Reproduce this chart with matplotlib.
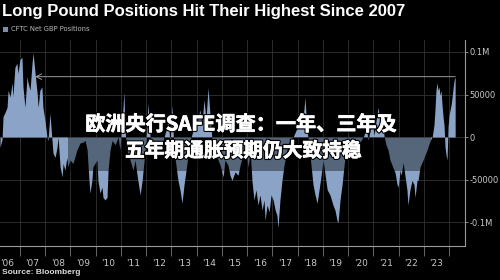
import numpy as np
import matplotlib
matplotlib.use('Agg')
from matplotlib import pyplot as plt
from matplotlib.patches import Rectangle
import matplotlib.patheffects as pe

# CFTC net GBP positions, thousands of contracts
dates = [
    2006.21, 2006.29, 2006.33, 2006.41, 2006.49, 2006.53, 2006.61, 2006.69, 2006.72, 2006.80,
    2006.88, 2006.92, 2007.00, 2007.08, 2007.12, 2007.20, 2007.28, 2007.32, 2007.40, 2007.48,
    2007.52, 2007.60, 2007.68, 2007.72, 2007.79, 2007.87, 2007.91, 2007.99, 2008.07, 2008.11,
    2008.19, 2008.27, 2008.31, 2008.39, 2008.47, 2008.51, 2008.59, 2008.67, 2008.71, 2008.78,
    2008.86, 2008.90, 2008.98, 2009.10, 2009.26, 2009.38, 2009.50, 2009.58, 2009.66, 2009.70,
    2009.77, 2009.85, 2009.89, 2010.05, 2010.09, 2010.17, 2010.25, 2010.29, 2010.37, 2010.45,
    2010.49, 2010.57, 2010.65, 2010.77, 2010.89, 2010.96, 2011.04, 2011.12, 2011.16, 2011.24,
    2011.36, 2011.48, 2011.56, 2011.64, 2011.76, 2011.84, 2011.92, 2012.00, 2012.07, 2012.15,
    2012.23, 2012.35, 2012.47, 2012.55, 2012.67, 2012.79, 2012.87, 2012.95, 2013.02, 2013.10,
    2013.18, 2013.26, 2013.34, 2013.42, 2013.50, 2013.58, 2013.66, 2013.74, 2013.86, 2013.98,
    2014.05, 2014.13, 2014.21, 2014.29, 2014.37, 2014.45, 2014.53, 2014.61, 2014.73, 2014.85,
    2014.93, 2015.05, 2015.12, 2015.24, 2015.32, 2015.40, 2015.52, 2015.64, 2015.72, 2015.84,
    2015.96, 2016.04, 2016.12, 2016.19, 2016.27, 2016.35, 2016.43, 2016.51, 2016.59, 2016.67,
    2016.71, 2016.79, 2016.87, 2016.95, 2017.03, 2017.11, 2017.18, 2017.22, 2017.30, 2017.38,
    2017.46, 2017.54, 2017.62, 2017.70, 2017.82, 2017.94, 2018.06, 2018.18, 2018.25, 2018.29,
    2018.37, 2018.45, 2018.53, 2018.61, 2018.69, 2018.77, 2018.85, 2018.93, 2019.01, 2019.09,
    2019.17, 2019.28, 2019.40, 2019.48, 2019.56, 2019.60, 2019.68, 2019.76, 2019.84, 2019.92,
    2020.04, 2020.16, 2020.27, 2020.39, 2020.51, 2020.63, 2020.71, 2020.79, 2020.87, 2020.95,
    2021.03, 2021.11, 2021.19, 2021.27, 2021.34, 2021.42, 2021.50, 2021.58, 2021.66, 2021.74,
    2021.86, 2021.94, 2021.98, 2022.06, 2022.10, 2022.18, 2022.25, 2022.33, 2022.37, 2022.45,
    2022.53, 2022.61, 2022.65, 2022.73, 2022.77, 2022.85, 2022.97, 2023.05, 2023.13, 2023.25,
    2023.33, 2023.40, 2023.44, 2023.48, 2023.52, 2023.56, 2023.60, 2023.64, 2023.68, 2023.72,
    2023.76, 2023.80, 2023.84, 2023.88, 2023.92, 2023.96, 2024.00, 2024.04, 2024.08, 2024.12,
    2024.16, 2024.20, 2024.24,
]
net_k = [
    -12, -3, 24, 29, 35, 55, 47, 64, 47, 82,
    87, 75, 91, 94, 59, 35, 71, 64, 55, 87,
    99, 75, 52, 35, 55, 59, 35, 20, 0, -4,
    28, -4, -19, -24, -12, 0, -35, -47, -31, -39,
    -24, -35, -27, -31, -15, -7, -6, -4, -15, -35,
    -66, -51, -35, -27, -51, -66, -59, -71, -74, -71,
    -39, -15, -4, -9, 0, -15, 14, 53, 8, -15,
    -27, -39, -27, -45, -68, -51, -27, -4, 40, 2,
    -9, -15, -4, -15, -4, 8, 20, -9, 38, -15,
    -33, -51, -62, -78, -56, -39, -21, -4, 8, 14,
    22, 32, 14, 44, 20, 58, 26, -4, -15, -27,
    -33, -47, -27, -33, -45, -51, -41, -45, -33, -21,
    -15, -36, -15, -51, -74, -62, -80, -68, -86, -74,
    -98, -80, -88, -68, -74, -86, -92, -107, -74, -51,
    -33, -21, -9, -4, 0, 8, 14, 24, 32, 47,
    8, -9, -33, -56, -68, -78, -62, -45, -27, -45,
    -62, -68, -80, -86, -98, -101, -74, -56, -33, -15,
    -9, -27, -15, -9, -4, 2, 14, -4, 8, 20,
    2, 20, 35, 14, 29, 2, -9, -15, -27, -33,
    -42, -56, -59, -39, -45, -30, -45, -62, -80, -62,
    -51, -56, -71, -51, -51, -35, -27, -21, -15, -4,
    0, 14, 32, 55, 64, 55, 59, 49, 55, 38,
    24, 14, -12, -21, -27, 12, 26, 32, 38, 47,
    58, 67, 71,
]
year_ticks = list(range(2007, 2025))
label_pos = [y + 0.5 for y in range(2006, 2024)]
year_labels = ["'%02d" % (y % 100) for y in range(2006, 2024)]
y_ticks = [-100000, -50000, 0, 50000, 100000]
y_labels = ['-0.1M', '-50000', '0', '50000', '0.1M']
arrow_level = 71000
arrow_from = 2024.24
arrow_to = 2007.6

area_col = '#8aa3c6'
grey = '#c8c8c8'
narrow = ['Liberation Sans Narrow', 'Liberation Sans', 'DejaVu Sans']

fig = plt.figure(figsize=(5, 2.8), dpi=100, facecolor='black')
ax = fig.add_axes([0.0, 0.1214, 0.93, 0.7357])
ax.set_facecolor('black')

values = np.array(net_k) * 1000
ax.fill_between(dates, 0, values, color=area_col, linewidth=0, zorder=2)

ax.set_xlim(2006.21, 2024.63)
ax.set_ylim(-128200, 114100)

ax.set_xticks(year_ticks)
ax.set_xticklabels([])
ax.set_xticks(label_pos, minor=True)
ax.set_xticklabels(year_labels, minor=True)
ax.yaxis.tick_right()
ax.set_yticks(y_ticks)
ax.set_yticklabels(y_labels)

ax.grid(which='major', color='#333333', linewidth=0.6, zorder=0)
ax.set_axisbelow(True)

for s in ['left', 'top']:
    ax.spines[s].set_visible(False)
for s in ['right', 'bottom']:
    ax.spines[s].set_color('#9a9a9a')
    ax.spines[s].set_linewidth(0.8)

ax.tick_params(axis='x', which='major', direction='out', length=7, width=0.6, color='#777777')
ax.tick_params(axis='x', which='minor', length=0, pad=9, labelsize=6.5, labelcolor=grey)
ax.tick_params(axis='y', direction='out', length=2.5, width=0.6, pad=0.8, color='#9a9a9a',
               labelsize=6, labelcolor=grey)

# arrow back to the 2007 peak
ax.annotate('', xy=(arrow_to, arrow_level), xytext=(arrow_from, arrow_level),
            arrowprops=dict(arrowstyle='->,head_length=0.4,head_width=0.2',
                            color='#9a9a9a', lw=0.7, shrinkA=0, shrinkB=0), zorder=3)

# title, legend, source
fig.text(0.004, 0.958, 'Long Pound Positions Hit Their Highest Since 2007', color='white',
         fontsize=12, fontweight='bold', family=narrow, ha='left', va='center')
fig.add_artist(Rectangle((0.006, 0.886), 0.010, 0.018, transform=fig.transFigure,
                         facecolor='#7d8fa8', edgecolor='none'))
fig.text(0.022, 0.895, 'CFTC Net GBP Positions', color='#b8b8b8', fontsize=4.9,
         ha='left', va='center')
fig.text(0.004, 0.025, 'Source: Bloomberg', color='#dddddd', fontsize=6,
         fontweight='bold', family=['Liberation Sans', 'DejaVu Sans'], ha='left', va='center')

# overlay headline with dark band
fig.add_artist(Rectangle((68 / 500, 1 - 171 / 280), (431 - 68) / 500, 34 / 280,
                         transform=fig.transFigure, facecolor='black', alpha=0.38,
                         edgecolor='none', zorder=2))
fx = [pe.Stroke(linewidth=2.2, foreground='black'),
      pe.Stroke(linewidth=0.5, foreground='white'), pe.Normal()]
cjk = ['Noto Sans CJK SC', 'DejaVu Sans']
fig.text(0.482, 1 - 124 / 280, '欧洲央行SAFE调查：一年、三年及', color='white', fontsize=14.5,
         fontweight='bold', family=cjk, ha='center', va='center', path_effects=fx, zorder=5)
fig.text(0.487, 1 - 151 / 280, '五年期通胀预期仍大致持稳', color='white', fontsize=14.2,
         fontweight='bold', family=cjk, ha='center', va='center', path_effects=fx, zorder=5)

fig.savefig('out.png', dpi=100, facecolor='black')
